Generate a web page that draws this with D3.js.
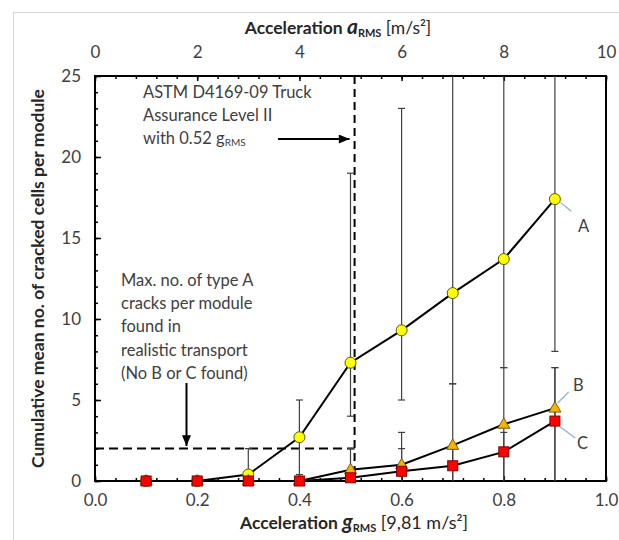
<!DOCTYPE html>
<html><head><meta charset="utf-8">
<script src="https://cdn.jsdelivr.net/npm/d3@7"></script>
<style>
html,body{margin:0;padding:0;background:#fff;}
svg{display:block;font-family:Lato,"Open Sans",sans-serif;}
</style></head>
<body><svg id="c" width="619" height="540"></svg>
<script>
// ---- data ----
const xValues = [0.1,0.2,0.3,0.4,0.5,0.6,0.7,0.8,0.9];
const seriesA = [0,0,0.4,2.7,7.3,9.3,11.6,13.7,17.4];
const seriesB = [0,0,0,0,0.7,1.0,2.2,3.5,4.5];
const seriesC = [0,0,0,0,0.2,0.6,0.94,1.8,3.7];
const errLowA  = [null,null,-1,0.4,4,5,6,7,8];
const errHighA = [null,null,2,5,19,23,30,30,30];
const errLowB  = [null,null,null,null,-1,-1,-1,-1,-1];
const errHighB = [null,null,null,null,2,3,6,7,7];
const errLowC  = [null,null,null,null,null,-1,-1,-1,-1];
const errHighC = [null,null,null,null,null,2,2,3,7];
const bottomTicks = [0,0.2,0.4,0.6,0.8,1.0];
const topTicks = [0,2,4,6,8,10];
const leftTicks = [0,5,10,15,20,25];
const truckLevel = 0.508;   // ASTM vertical line (drawn position)
const maxTypeA = 2;         // horizontal reference

const svg = d3.select("#c");
const L=95, R=606, T=76, B=481;
const x = d3.scaleLinear().domain([0,1]).range([L,R]);
const xTop = d3.scaleLinear().domain([0,10]).range([L,R]);
const y = d3.scaleLinear().domain([0,25]).range([B,T]);

// outer frame
svg.append("rect").attr("x",13.5).attr("y",12.5).attr("width",640).attr("height",560)
  .attr("fill","#fff").attr("stroke","#d9d9d9").attr("stroke-width",1);

svg.append("defs").append("clipPath").attr("id","pc").append("rect")
  .attr("x",L).attr("y",T).attr("width",R-L).attr("height",B-T);
const marker = svg.select("defs").append("marker").attr("id","ah")
  .attr("viewBox","0 0 12 10").attr("refX",12).attr("refY",5)
  .attr("markerWidth",12).attr("markerHeight",9).attr("markerUnits","userSpaceOnUse")
  .attr("orient","auto");
marker.append("path").attr("d","M0,0 L12,5 L0,10 z").attr("fill","#000");

const labelColor = "#404040";
const tickFont = "17px";
function styleAxis(g, showText){
  g.select(".domain").remove();
  g.selectAll("line").attr("stroke","#000").attr("stroke-width",1.5);
  g.selectAll("text").attr("fill",labelColor).style("font-size",tickFont).style("font-family","Lato");
  if(!showText) g.selectAll("text").remove();
}
// bottom axis
svg.append("g").attr("transform",`translate(0,${B})`)
  .call(d3.axisBottom(x).tickValues(d3.range(0,1.0001,0.04)).tickSize(-3).tickFormat(""))
  .call(g=>styleAxis(g,false));
svg.append("g").attr("transform",`translate(0,${B})`)
  .call(d3.axisBottom(x).tickValues(bottomTicks).tickSize(-5).tickPadding(13).tickFormat(d3.format(".1f")))
  .call(g=>styleAxis(g,true));
// top axis
svg.append("g").attr("transform",`translate(0,${T})`)
  .call(d3.axisTop(xTop).tickValues(d3.range(0,10.001,0.4)).tickSize(-3).tickFormat(""))
  .call(g=>styleAxis(g,false));
svg.append("g").attr("transform",`translate(0,${T})`)
  .call(d3.axisTop(xTop).tickValues(topTicks).tickSize(-5).tickPadding(18).tickFormat(d3.format("d")))
  .call(g=>styleAxis(g,true));
// left axis
svg.append("g").attr("transform",`translate(${L},0)`)
  .call(d3.axisLeft(y).tickValues(d3.range(0,26,1)).tickSize(-3).tickFormat(""))
  .call(g=>styleAxis(g,false));
svg.append("g").attr("transform",`translate(${L},0)`)
  .call(d3.axisLeft(y).tickValues(leftTicks).tickSize(-6).tickPadding(14).tickFormat(d3.format("d")))
  .call(g=>styleAxis(g,true));

// plot frame
svg.append("rect").attr("x",L).attr("y",T).attr("width",R-L).attr("height",B-T)
  .attr("fill","none").attr("stroke","#000").attr("stroke-width",2);

// reference dashed lines
svg.append("line").attr("x1",x(truckLevel)).attr("x2",x(truckLevel)).attr("y1",y(25)).attr("y2",y(0))
  .attr("stroke","#000").attr("stroke-width",2).attr("stroke-dasharray","8,5");
svg.append("line").attr("x1",x(0)).attr("x2",x(truckLevel)).attr("y1",y(maxTypeA)).attr("y2",y(maxTypeA))
  .attr("stroke","#000").attr("stroke-width",2).attr("stroke-dasharray","9,5");

// error bars
const plot = svg.append("g").attr("clip-path","url(#pc)");
function errBars(lo, hi){
  xValues.forEach((xv,i)=>{
    if(hi[i]==null) return;
    const px = x(xv);
    plot.append("line").attr("x1",px).attr("x2",px).attr("y1",y(lo[i])).attr("y2",y(hi[i]))
      .attr("stroke","#404040").attr("stroke-width",1.2);
    [lo[i],hi[i]].forEach(v=>{
      if(v>0 && v<25) plot.append("line").attr("x1",px-3.5).attr("x2",px+3.5).attr("y1",y(v)).attr("y2",y(v))
        .attr("stroke","#404040").attr("stroke-width",1.2);
    });
  });
}
errBars(errLowA,errHighA); errBars(errLowB,errHighB); errBars(errLowC,errHighC);

const line = d3.line().x((d,i)=>x(xValues[i])).y(d=>y(d));
function drawSeries(vals, shape){
  svg.append("path").datum(vals).attr("d",line).attr("fill","none").attr("stroke","#000").attr("stroke-width",2);
  const g = svg.append("g");
  vals.forEach((v,i)=>{
    const px=x(xValues[i]), py=y(v);
    if(shape==="circle") g.append("circle").attr("cx",px).attr("cy",py).attr("r",5.5)
      .attr("fill","#ffff00").attr("stroke","#595900").attr("stroke-width",1);
    else if(shape==="tri") g.append("path").attr("d",d3.symbol(d3.symbolTriangle,62)()).attr("transform",`translate(${px},${py+0.5})`)
      .attr("fill","#f5b400").attr("stroke","#7f5a00").attr("stroke-width",1);
    else g.append("rect").attr("x",px-5).attr("y",py-5).attr("width",10).attr("height",10)
      .attr("fill","#ff0000").attr("stroke","#7f0000").attr("stroke-width",1);
  });
}
drawSeries(seriesA,"circle");
drawSeries(seriesB,"tri");
drawSeries(seriesC,"square");

// series labels with leaders
const leaderColor = "#8eaed6";
const seriesLabels = [
  {t:"A", lx:0.956, lv:15.7, l1:[0.911,17.2], l2:[0.932,16.65]},
  {t:"B", lx:0.946, lv:5.9, l1:[0.905,4.8], l2:[0.927,5.5]},
  {t:"C", lx:0.954, lv:2.35, l1:[0.91,3.35], l2:[0.94,2.65]}
];
seriesLabels.forEach(s=>{
  svg.append("line").attr("x1",x(s.l1[0])).attr("y1",y(s.l1[1])).attr("x2",x(s.l2[0])).attr("y2",y(s.l2[1]))
    .attr("stroke",leaderColor).attr("stroke-width",1.2);
  svg.append("text").attr("x",x(s.lx)).attr("y",y(s.lv)).attr("dy","0.35em").attr("text-anchor","middle")
    .attr("fill",labelColor).style("font-size","16.5px").text(s.t);
});

// annotations
const annFont = "16.5px";
const ann1 = svg.append("text").attr("fill",labelColor).style("font-size",annFont);
ann1.append("tspan").attr("x",143).attr("y",98).text("ASTM D4169-09 Truck");
ann1.append("tspan").attr("x",143).attr("y",121).text("Assurance Level II");
ann1.append("tspan").attr("x",143).attr("y",143.5).text("with 0.52 ");
ann1.append("tspan").text("g");
ann1.append("tspan").attr("dy",2).style("font-size","10px").text("RMS");
svg.append("line").attr("x1",278).attr("x2",x(truckLevel)-5).attr("y1",139).attr("y2",139)
  .attr("stroke","#000").attr("stroke-width",2).attr("marker-end","url(#ah)");

const ann2Lines = ["Max. no. of type A","cracks per module","found in","realistic transport","(No B or C found)"];
const ann2 = svg.append("text").attr("fill",labelColor).style("font-size",annFont);
ann2Lines.forEach((t,i)=>ann2.append("tspan").attr("x",121).attr("y",286+i*23.2).text(t));
svg.append("line").attr("x1",186.5).attr("x2",186.5).attr("y1",383).attr("y2",446)
  .attr("stroke","#000").attr("stroke-width",2).attr("marker-end","url(#ah)");

// axis titles
const titleFont = "17.5px";
const tTop = svg.append("text").attr("x",338).attr("y",34).attr("text-anchor","middle")
  .attr("fill","#262626").style("font-size",titleFont).style("font-weight","bold");
tTop.append("tspan").text("Acceleration ");
tTop.append("tspan").style("font-style","italic").style("font-size","21px").text("a");
tTop.append("tspan").attr("dy",2.5).style("font-size","11px").text("RMS");
tTop.append("tspan").attr("dy",-2.5).style("font-weight","normal").text(" [m/s²]");

const tBot = svg.append("text").attr("x",354).attr("y",529).attr("text-anchor","middle")
  .attr("fill","#262626").style("font-size",titleFont).style("font-weight","bold");
tBot.append("tspan").text("Acceleration ");
tBot.append("tspan").style("font-style","italic").style("font-size","21px").text("g");
tBot.append("tspan").attr("dy",3).style("font-size","11px").text("RMS");
tBot.append("tspan").attr("dy",-3).style("font-size","18px").style("font-weight","normal").text(" [9,81 m/s²]");

svg.append("text").attr("transform",`translate(44,${(T+B)/2}) rotate(-90)`).attr("text-anchor","middle")
  .attr("fill","#262626").style("font-size","17.5px").style("font-weight","bold")
  .text("Cumulative mean no. of cracked cells per module");
</script></body></html>
